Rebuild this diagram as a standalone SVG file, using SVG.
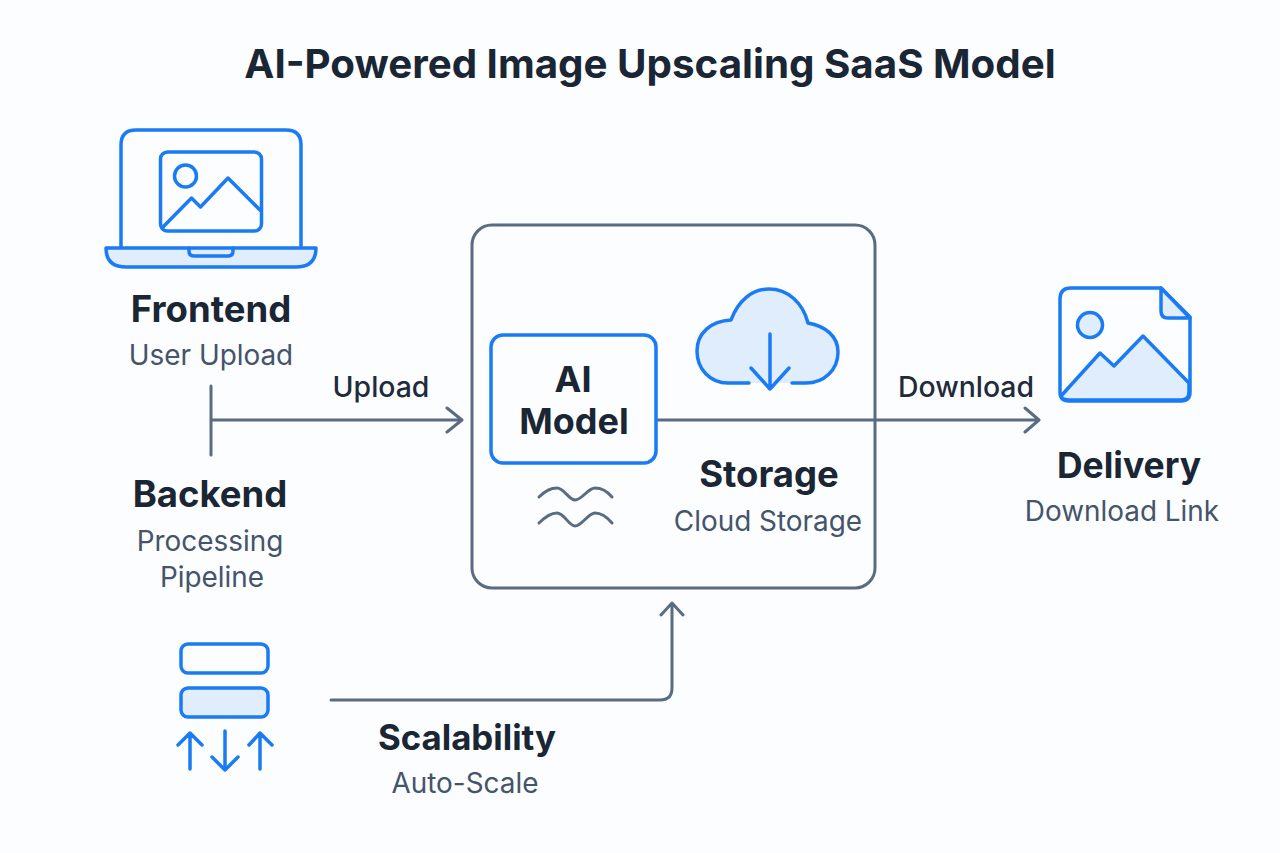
<svg xmlns="http://www.w3.org/2000/svg" width="1280" height="853" viewBox="0 0 1280 853">
<style>
text{font-family:Inter,"Liberation Sans",sans-serif;text-anchor:middle}
.h{font-weight:700;font-size:36.500px;fill:#1b2635}
.s{font-weight:400;font-size:27.900px;fill:#45546a}
.l{font-weight:500;font-size:28.400px;fill:#1f2a3a}
.b{fill:none;stroke:#1a7bf5;stroke-width:3.500;stroke-linecap:round;stroke-linejoin:round}
.f{fill:#dfedfd}
.c{fill:none;stroke:#5b6b82;stroke-width:3;stroke-linecap:round;stroke-linejoin:round}
</style>
<rect width="1280" height="853" fill="#fbfdff"/>
<text x="650" y="78" font-size="40.300" font-weight="700" fill="#1b2635">AI-Powered Image Upscaling SaaS Model</text>
<g id="connectors">
<path class="c" d="M211 386V455M211 420H461M447 408L462 420L447 432"/>
<path class="c" d="M657 420H1038M1025 408L1039 420L1025 432"/>
<path class="c" d="M331 700H660Q672 700 672 688V604M661 615L672 603L683 615"/>
</g>
<g id="frontend">
<path class="b" d="M121 247V145Q121 130 136 130H286Q301 130 301 145V247"/>
<path class="b f" d="M106 248H316Q316 267 296 267H126Q106 267 106 248Z"/>
<path class="b" d="M189 248V251Q189 256 194 256H228Q233 256 233 251V248"/>
<rect class="b" x="160.500" y="152" width="101" height="79" rx="7"/>
<circle class="b" cx="185.500" cy="176" r="11"/>
<path class="b" d="M162 228L191.500 198L200.500 207L228 178L260 210"/>
<text class="h" x="211" y="322">Frontend</text>
<text class="s" x="211" y="365">User Upload</text>
</g>
<g id="backend">
<text class="h" x="210" y="507">Backend</text>
<text class="s" x="210" y="551">Processing</text>
<text class="s" x="212" y="587">Pipeline</text>
</g>
<g id="platform">
<rect x="472" y="225" width="403" height="363" rx="20" fill="none" stroke="#5b6b82" stroke-width="3"/>
</g>
<g id="ai-model">
<rect x="491" y="335" width="165" height="128" rx="12" fill="#fbfdff" stroke="#1a7bf5" stroke-width="3.500"/>
<text x="573" y="392" font-size="36" font-weight="700" fill="#1b2635">AI</text>
<text x="574" y="434" font-size="36" font-weight="700" fill="#1b2635">Model</text>
<path class="c" d="M539 497C545 491 551 488 557 488C564 488 569 500 575 500C582 500 588 488 595 488C601 488 607 491 612 497"/>
<path class="c" d="M539 523C545 517 551 513 557 513C564 513 569 526 575 526C582 526 588 513 595 513C601 513 607 517 612 523"/>
</g>
<g id="storage">
<path class="b f" d="M749 383H728C710 383 697 369 697 351C697 333 711 321 731 320C738 301 752 289 769 289C788 289 803 303 808 323C825 326 838 336 838 352C838 370 824 383 806 383H792"/>
<path class="b" d="M770 334V389M751 368L770 389L789 368" stroke-width="3"/>
<text class="h" x="769" y="487">Storage</text>
<text class="s" x="768" y="531">Cloud Storage</text>
</g>
<g id="delivery">
<path class="b" d="M1060 299Q1060 288 1071 288H1161L1190 317V392Q1190 401 1181 401H1069Q1060 401 1060 392Z"/>
<path class="b f" d="M1161 288V311Q1161 318 1168 318H1190Z"/>
<circle class="b f" cx="1090" cy="325" r="12.500"/>
<path class="b f" d="M1061 396L1100 353L1114 366L1143 336L1189 383V392Q1189 400 1181 400H1069Q1062 400 1061 396Z"/>
<text class="h" x="1129" y="478" style="font-size:35.500px">Delivery</text>
<text class="s" x="1122" y="521">Download Link</text>
</g>
<g id="scalability">
<rect class="b" x="181" y="644" width="87" height="29" rx="7"/>
<rect class="b f" x="181" y="688" width="87" height="29" rx="7"/>
<path class="b" d="M190 769V733M178 745L190 733L202 745M225 731V770M212 757L225 770L238 757M260 769V733M249 745L260 733L272 745"/>
<text class="h" x="467" y="750" style="font-size:34.800px">Scalability</text>
<text class="s" x="465" y="793">Auto-Scale</text>
</g>
<text class="l" x="381" y="397">Upload</text>
<text class="l" x="966" y="397">Download</text>
</svg>
